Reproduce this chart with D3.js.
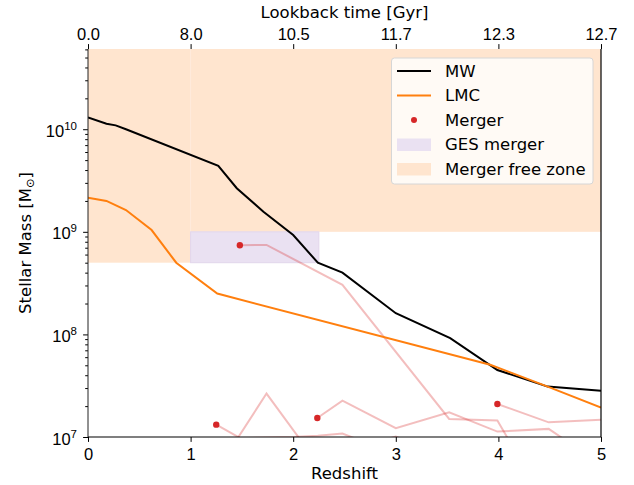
<!DOCTYPE html>
<html>
<head>
<meta charset="utf-8">
<script src="https://cdn.jsdelivr.net/npm/d3@7"></script>
<style>
  body { margin: 0; background: #fff; }
  svg { font-family: "DejaVu Sans", sans-serif; }
  .tick text { font-size: 16.5px; fill: #000; }
</style>
</head>
<body>
<div id="chart"></div>
<script>
// Data
var redshiftTicks = [0, 1, 2, 3, 4, 5];
var lookbackLabels = ["0.0", "8.0", "10.5", "11.7", "12.3", "12.7"];

var mwZ = [0, 0.18, 0.27, 0.37, 1.27, 1.45, 1.71, 2.0, 2.24, 2.48, 3.0, 3.53, 3.99, 4.48, 5.0];
var mwMass = [1.3e10, 1.13e10, 1.09e10, 1.0e10, 4.4e9, 2.66e9, 1.57e9, 9.3e8, 5.0e8, 4.0e8, 1.61e8, 9.2e7, 4.5e7, 3.1e7, 2.83e7];

var lmcZ = [0, 0.18, 0.37, 0.62, 0.86, 1.26, 3.92, 4.48, 5.0];
var lmcMass = [2.15e9, 2.0e9, 1.63e9, 1.04e9, 5.0e8, 2.5e8, 5.06e7, 3.1e7, 1.94e7];

// merger progenitor tracks (first point = merger)
var gesZ = [1.48, 1.74, 2.48, 3.52, 3.99, 4.49];
var gesMass = [7.4e8, 7.45e8, 3.04e8, 1.5e7, 1.45e7, 2.0e6];
var m1Z = [1.25, 1.48, 2.0, 2.24, 2.48, 2.75, 3.0, 3.25];
var m1Mass = [1.32e7, 9.8e6, 1.0e7, 1.03e7, 1.08e7, 8.5e6, 1.01e7, 8.0e6];
var m2Z = [2.235, 2.48, 3.0, 3.52, 3.99, 4.49, 4.75];
var m2Mass = [1.53e7, 2.26e7, 1.22e7, 1.74e7, 1.13e7, 1.2e7, 8.0e6];
var m3Z = [3.99, 4.49, 5.0];
var m3Mass = [2.1e7, 1.39e7, 1.47e7];
var m4Z = [1.26, 1.74, 2.24];
var m4Mass = [4.8e6, 2.65e7, 5.5e6];

var mergerTracks = [
  { z: m4Z, m: m4Mass, dot: false },
  { z: m1Z, m: m1Mass, dot: true },
  { z: m2Z, m: m2Mass, dot: true },
  { z: m3Z, m: m3Mass, dot: true },
  { z: gesZ, m: gesMass, dot: true }
];

var yMajor = [1e7, 1e8, 1e9, 1e10];
var yExp = ["7", "8", "9", "10"];

var svgWidth = 634;
var svgHeight = 485;
var margin = { top: 49, right: 33, bottom: 48, left: 88 };
var width = svgWidth - margin.left - margin.right;
var height = svgHeight - margin.top - margin.bottom;

var svg = d3.select("#chart")
  .append("svg")
  .attr("width", svgWidth)
  .attr("height", svgHeight);

var chartGroup = svg.append("g")
  .attr("transform", `translate(${margin.left}, ${margin.top})`);

var xScale = d3.scaleLinear().domain([0, 5]).range([0, width]);
var yTop = Math.pow(10, 10.782);
var yScale = d3.scaleLog().domain([1e7, yTop]).range([height, 0]);

svg.append("defs").append("clipPath").attr("id", "clip")
  .append("rect").attr("width", width).attr("height", height);

var orangeFill = "rgb(255,229,207)";
var purpleFill = "rgb(234,225,242)";

// Merger free zone
chartGroup.append("rect")
  .attr("x", xScale(0)).attr("y", yScale(yTop))
  .attr("width", xScale(1) - xScale(0))
  .attr("height", yScale(5e8) - yScale(yTop))
  .attr("fill", orangeFill);
chartGroup.append("rect")
  .attr("x", xScale(1)).attr("y", yScale(yTop))
  .attr("width", xScale(5) - xScale(1))
  .attr("height", yScale(1e9) - yScale(yTop))
  .attr("fill", orangeFill);
chartGroup.append("line")
  .attr("x1", xScale(1)).attr("x2", xScale(1))
  .attr("y1", yScale(yTop)).attr("y2", yScale(1e9))
  .attr("stroke", "#ffeadb").attr("stroke-width", 1);

// GES merger box
chartGroup.append("rect")
  .attr("x", xScale(1)).attr("y", yScale(1e9))
  .attr("width", xScale(2.25) - xScale(1))
  .attr("height", yScale(5e8) - yScale(1e9))
  .attr("fill", purpleFill)
  .attr("stroke", "rgb(226,214,236)")
  .attr("stroke-width", 1);

var plotArea = chartGroup.append("g").attr("clip-path", "url(#clip)");

var line = d3.line()
  .x(d => xScale(d[0]))
  .y(d => yScale(d[1]));

function pairs(zs, ms) {
  return zs.map((z, i) => [z, ms[i]]);
}

mergerTracks.forEach(function(t) {
  plotArea.append("path")
    .datum(pairs(t.z, t.m))
    .attr("d", line)
    .attr("fill", "none")
    .attr("stroke", "#d62728")
    .attr("stroke-opacity", 0.3)
    .attr("stroke-width", 2);
});

plotArea.selectAll(".mdot")
  .data(mergerTracks.filter(t => t.dot))
  .enter()
  .append("circle")
  .attr("cx", t => xScale(t.z[0]))
  .attr("cy", t => yScale(t.m[0]))
  .attr("r", 3.2)
  .attr("fill", "#d62728");

plotArea.append("path")
  .datum(pairs(mwZ, mwMass))
  .attr("d", line)
  .attr("fill", "none")
  .attr("stroke", "#000")
  .attr("stroke-width", 2);

plotArea.append("path")
  .datum(pairs(lmcZ, lmcMass))
  .attr("d", line)
  .attr("fill", "none")
  .attr("stroke", "#ff7f0e")
  .attr("stroke-width", 2);

// Axes
var bottomAxis = d3.axisBottom(xScale).tickValues(redshiftTicks)
  .tickFormat(d3.format("d")).tickSize(4.9).tickPadding(6.5);
var topAxis = d3.axisTop(xScale).tickValues(redshiftTicks)
  .tickFormat((d, i) => lookbackLabels[i]).tickSize(4.9).tickPadding(4);

var minorTicks = [];
for (var e = 7; e <= 10; e++) {
  for (var k = 2; k <= 9; k++) {
    var v = k * Math.pow(10, e);
    if (v <= yTop * 1.001) minorTicks.push(v);
  }
}
var leftMinor = d3.axisLeft(yScale).tickValues(minorTicks).tickFormat("").tickSize(2.8);
var leftAxis = d3.axisLeft(yScale).tickValues(yMajor).tickFormat("").tickSize(4.9);

function styleAxis(g) {
  g.select(".domain").remove();
  g.selectAll(".tick line").attr("stroke", "#000").attr("stroke-width", 1);
}

chartGroup.append("g").attr("transform", `translate(0, ${height})`).call(bottomAxis).call(styleAxis);
chartGroup.append("g").call(topAxis).call(styleAxis);
chartGroup.append("g").call(leftMinor).call(styleAxis);
var yAxisG = chartGroup.append("g").call(leftAxis).call(styleAxis);

yAxisG.selectAll(".tick").each(function(d, i) {
  var t = d3.select(this).append("text")
    .attr("x", -11)
    .attr("y", 7)
    .attr("text-anchor", "end")
    .attr("fill", "#000")
    .style("font-size", "16.5px");
  t.append("tspan").text("10");
  t.append("tspan").attr("dy", -7).style("font-size", "11.5px").text(yExp[i]);
});

// Spines
chartGroup.append("line").attr("x1", 0).attr("x2", 0).attr("y1", 0).attr("y2", height)
  .attr("stroke", "#222").attr("stroke-width", 1);
chartGroup.append("line").attr("x1", width).attr("x2", width).attr("y1", 0).attr("y2", height)
  .attr("stroke", "#000").attr("stroke-width", 1.2);
chartGroup.append("line").attr("x1", 0).attr("x2", width).attr("y1", height).attr("y2", height)
  .attr("stroke", "#000").attr("stroke-width", 1.2);

// Axis labels
svg.append("text")
  .attr("x", margin.left + width / 2).attr("y", 479)
  .attr("text-anchor", "middle").style("font-size", "16.5px")
  .text("Redshift");

svg.append("text")
  .attr("x", margin.left + width / 2).attr("y", 18)
  .attr("text-anchor", "middle").style("font-size", "16.5px")
  .text("Lookback time [Gyr]");

var yLabel = svg.append("text")
  .attr("transform", `translate(30.5, ${margin.top + height / 2}) rotate(-90)`)
  .attr("text-anchor", "middle").style("font-size", "16.5px");
yLabel.append("tspan").text("Stellar Mass [M");
yLabel.append("tspan").attr("dy", 3.5).style("font-size", "11.5px").text("\u2299");
yLabel.append("tspan").attr("dy", -3.5).text("]");

// Legend
var legend = svg.append("g").attr("transform", "translate(391.5, 58)");
legend.append("rect")
  .attr("width", 201.5).attr("height", 126)
  .attr("rx", 3)
  .attr("fill", "#fffaf5")
  .attr("stroke", "#d6d6d6");

var legendItems = [
  { label: "MW", type: "line", color: "#000" },
  { label: "LMC", type: "line", color: "#ff7f0e" },
  { label: "Merger", type: "dot", color: "#d62728" },
  { label: "GES merger", type: "patch", color: purpleFill },
  { label: "Merger free zone", type: "patch", color: orangeFill }
];

legendItems.forEach(function(item, i) {
  var cy = 13 + i * 24.5;
  var g = legend.append("g");
  if (item.type === "line") {
    g.append("line").attr("x1", 5.5).attr("x2", 39.5).attr("y1", cy).attr("y2", cy)
      .attr("stroke", item.color).attr("stroke-width", 2);
  } else if (item.type === "dot") {
    g.append("circle").attr("cx", 22.5).attr("cy", cy).attr("r", 3).attr("fill", item.color);
  } else {
    g.append("rect").attr("x", 5.5).attr("y", cy - 6).attr("width", 34).attr("height", 12.5)
      .attr("fill", item.color);
  }
  g.append("text").attr("x", 53.5).attr("y", cy).attr("dy", "0.36em")
    .style("font-size", "16.5px").text(item.label);
});
</script>
</body>
</html>
